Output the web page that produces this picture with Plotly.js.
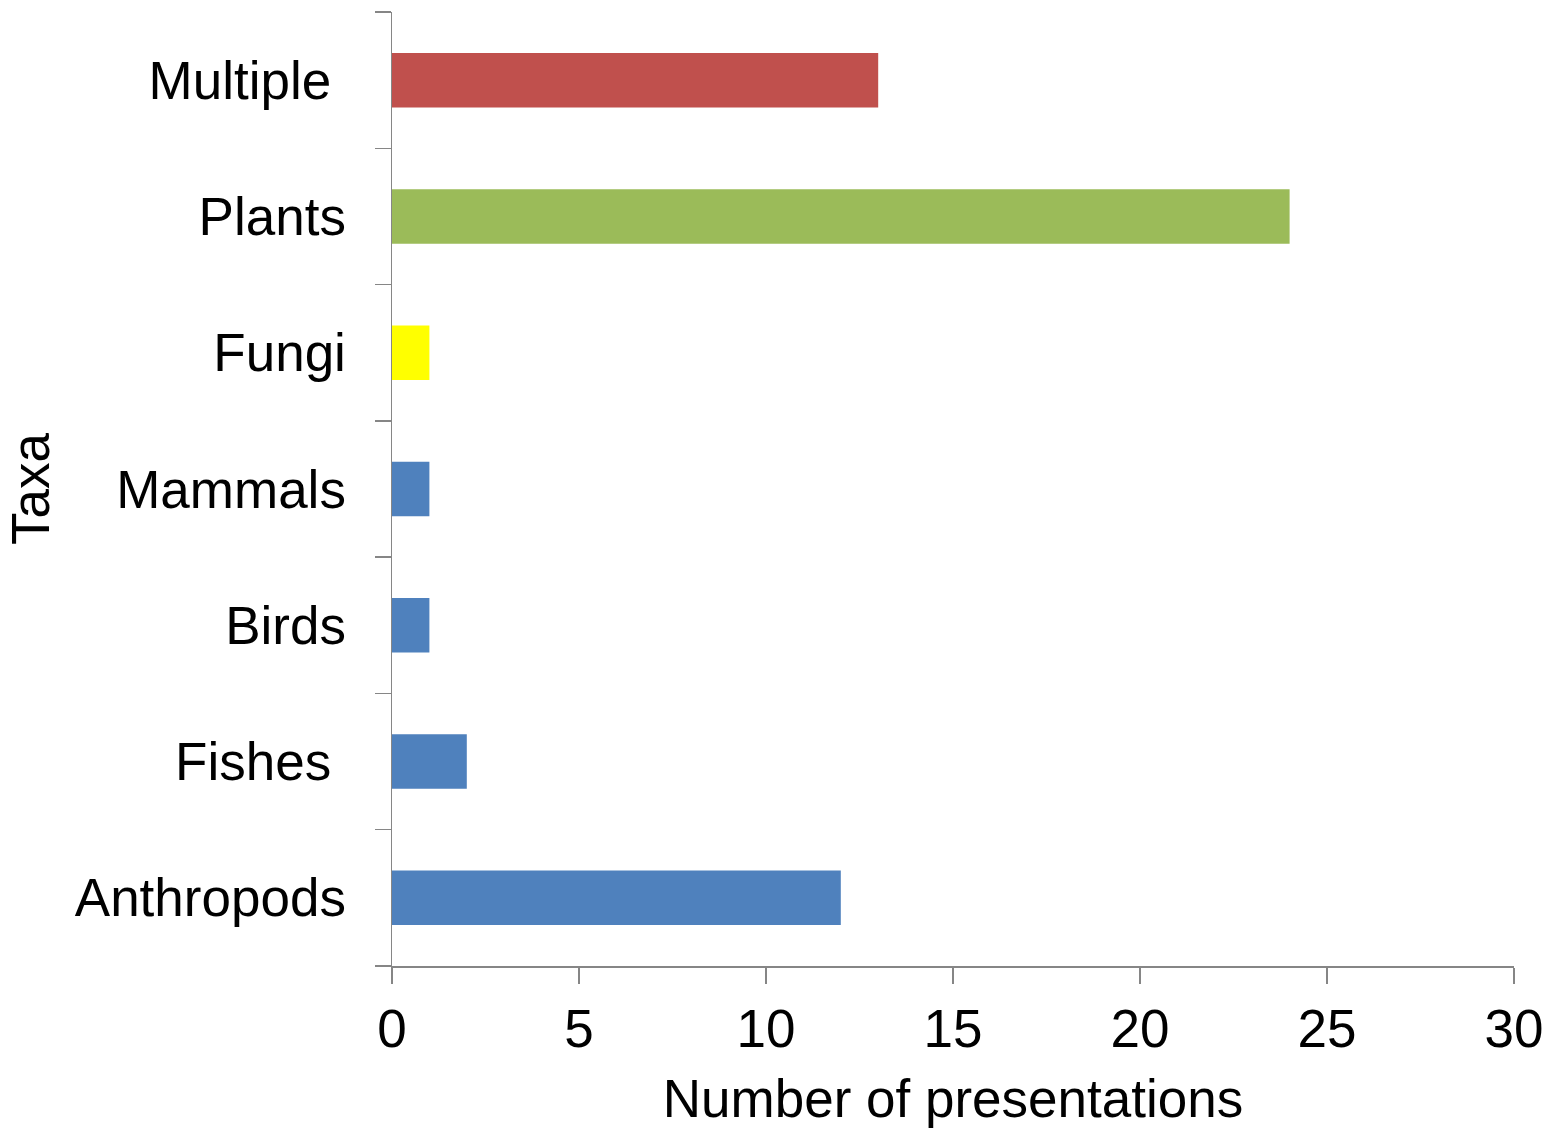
<!DOCTYPE html>
<html>
<head>
<meta charset="utf-8">
<script src="https://cdn.plot.ly/plotly-3.0.1.min.js"></script>
<style>html,body{margin:0;padding:0;background:#fff;}#chart{width:1561px;height:1128px;}</style>
</head>
<body>
<div id="chart"></div>
<script>
const categories = ["Anthropods", "Fishes", "Birds", "Mammals", "Fungi", "Plants", "Multiple"];
const tickLabels = ["Anthropods", "Fishes\u00a0", "Birds", "Mammals", "Fungi", "Plants", "Multiple\u00a0"];
const values = [12, 2, 1, 1, 1, 24, 13];
const barColors = ["#4F81BD", "#4F81BD", "#4F81BD", "#4F81BD", "#FFFF00", "#9BBB59", "#C0504D"];

const font = {family: "Liberation Sans, Arial, sans-serif", size: 53, color: "#000"};

Plotly.newPlot("chart", [{
  type: "bar",
  orientation: "h",
  y: categories,
  x: values,
  marker: {color: barColors},
  hoverinfo: "none"
}], {
  width: 1561, height: 1128,
  margin: {l: 392, r: 47, t: 12, b: 162},
  paper_bgcolor: "#fff", plot_bgcolor: "#fff",
  font: font,
  bargap: 0.6,
  showlegend: false,
  xaxis: {
    range: [0, 30], dtick: 5, tick0: 0,
    showgrid: false, zeroline: false,
    showline: true, linecolor: "#868686", linewidth: 1.5,
    ticks: "outside", ticklen: 16, tickcolor: "#868686", tickwidth: 1.5,
    tickfont: font,
    title: {text: "Number of presentations", font: font, standoff: 24}
  },
  yaxis: {
    type: "category",
    automargin: true,
    categoryorder: "array", categoryarray: categories,
    tickmode: "array", tickvals: categories, ticktext: tickLabels,
    showgrid: false, zeroline: false,
    showline: true, linecolor: "#868686", linewidth: 1.5,
    ticks: "outside", ticklen: 16, tickcolor: "#868686", tickwidth: 1.5,
    tickson: "boundaries",
    ticklabelstandoff: 34,
    tickfont: font,
    title: {text: "Taxa", font: font, standoff: 8}
  }
}, {staticPlot: true});
</script>
</body>
</html>
